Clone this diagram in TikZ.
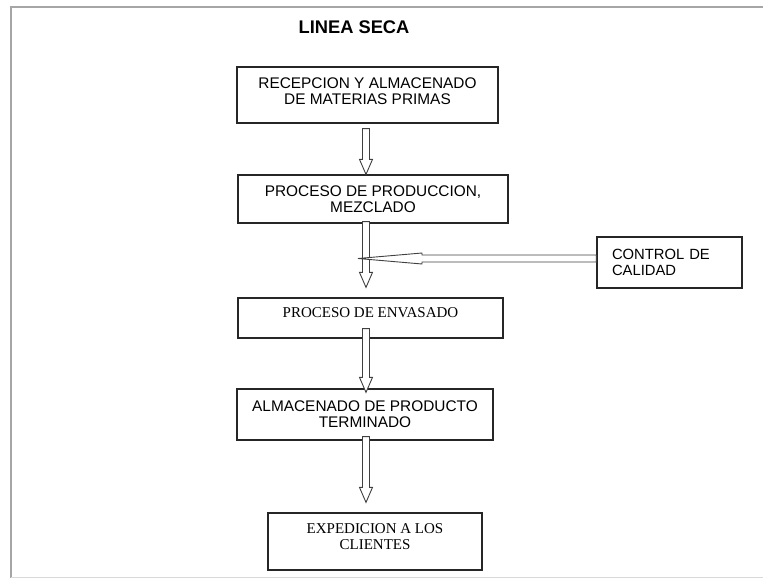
\documentclass[tikz,border=0pt]{standalone}
\usepackage{fontspec}
\setmainfont{Liberation Sans}
\newfontfamily\timesf{Liberation Serif}
\usetikzlibrary{calc}
\newcommand\varrow[2]{\draw[barrow] let \p1=(#1), \p2=(#2) in
  (\x1-3.5pt,\y1) -- (\x1-3.5pt,\y2+15pt) -- (\x1-6.5pt,\y2+15pt) -- (\x1,\y2)
  -- (\x1+6.5pt,\y2+15pt) -- (\x1+3.5pt,\y2+15pt) -- (\x1+3.5pt,\y1) -- cycle;}
\newcommand\harrow[2]{\draw[barrow] let \p1=(#1), \p2=(#2) in
  (\x1,\y1+3.5pt) -- (\x2+64pt,\y1+3.5pt) -- (\x2+64pt,\y1+5.5pt) -- (\x2,\y1)
  -- (\x2+64pt,\y1-5.5pt) -- (\x2+64pt,\y1-3.5pt) -- (\x1,\y1-3.5pt) -- cycle;}
\begin{document}
\begin{tikzpicture}[x=1pt,y=-1pt,
  box/.style={draw=black!85, line width=1.2pt, rectangle, inner sep=0pt, align=center,
    font=\fontsize{15.4}{16}\selectfont},
  serifbox/.style={box, font=\timesf\fontsize{15}{16.5}\selectfont},
  barrow/.style={draw=black!75, line width=0.9pt, fill=white, line join=miter}]
\useasboundingbox (0,0) rectangle (763,578);
\draw[gray!70, line width=2pt] (11,578) -- (11,7) -- (763,7);
\draw[gray!30, line width=1pt] (11,577) -- (763,577);

\node[font=\bfseries\fontsize{18.3}{20}\selectfont] (title) at (354,27) {LINEA SECA};

\node[box, minimum width=261pt, minimum height=56pt, text depth=7pt] (b1) at (367.5,95)
  {RECEPCION Y ALMACENADO\\DE MATERIAS PRIMAS};
\node[box, minimum width=270pt, minimum height=48pt] (b2) at (373,199)
  {PROCESO DE PRODUCCION,\\MEZCLADO};
\node[box, align=left, inner xsep=15pt, text width=115pt, minimum height=51pt,
  font=\fontsize{14.8}{16}\selectfont] (ctrl) at (669.5,262.5)
  {CONTROL DE\\CALIDAD};
\node[serifbox, minimum width=265pt, minimum height=40pt, text depth=10pt] (b3) at (370.5,318)
  {PROCESO DE ENVASADO};
\node[box, minimum width=256pt, minimum height=51pt] (b4) at (365,414.5)
  {ALMACENADO DE PRODUCTO\\TERMINADO};
\node[serifbox, minimum width=214pt, minimum height=57pt, text depth=10pt] (b5) at (375,541.5)
  {EXPEDICION A LOS\\CLIENTES};

\coordinate (ax) at (366,0);
\varrow{$(b1.south -| ax)+(0,5)$}{b2.north -| ax}
\varrow{$(b2.south -| ax)+(0,-2)$}{$(b3.north -| ax)+(0,-10)$}
\coordinate (hs) at ($(ctrl.west)+(0,-4)$);
\harrow{hs}{$(ax |- hs)+(-8,0)$}
\varrow{$(b3.south -| ax)+(0,-10)$}{$(b4.north -| ax)+(0,4)$}
\varrow{$(b4.south -| ax)+(0,-4)$}{$(b5.north -| ax)+(0,-10)$}
\end{tikzpicture}
\end{document}
